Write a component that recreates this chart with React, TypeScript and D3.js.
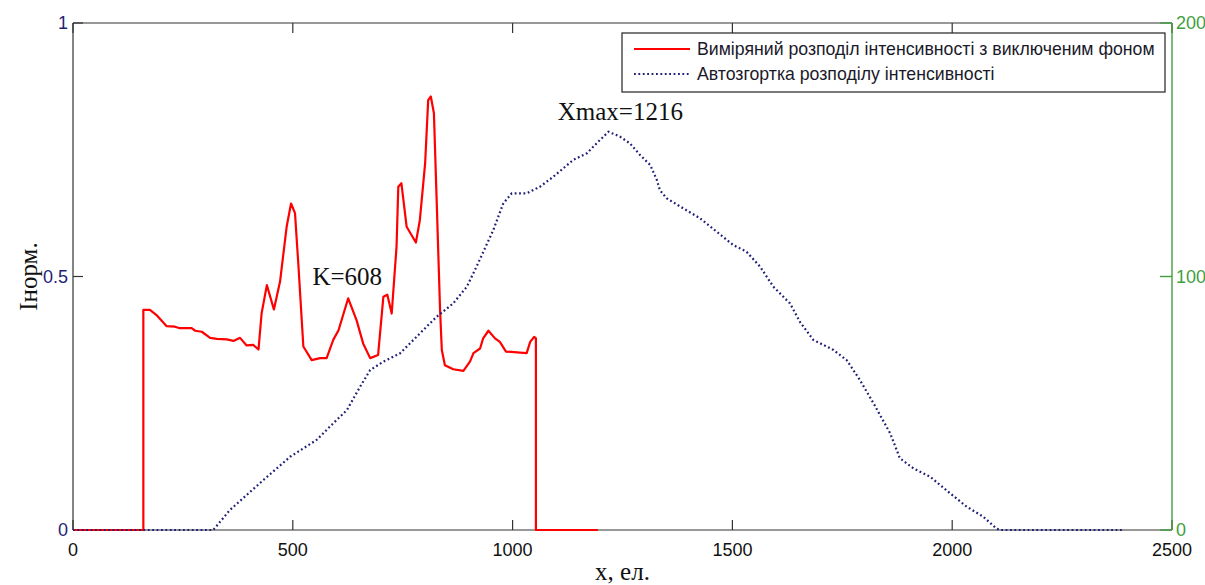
import React from "react";
import * as d3 from "d3";

// Measured intensity with background removed (left axis, normalized)
const redPoints: [number, number][] = [
  [0, 0], [160, 0], [160, 0.434], [175, 0.434], [190, 0.424], [213, 0.402], [232, 0.401],
  [243, 0.398], [270, 0.398], [278, 0.393], [293, 0.391], [312, 0.379], [327, 0.377],
  [350, 0.376], [365, 0.373], [380, 0.379], [395, 0.364], [410, 0.365], [422, 0.356],
  [429, 0.427], [441, 0.483], [457, 0.435], [471, 0.49], [486, 0.598], [496, 0.644],
  [505, 0.625], [513, 0.519], [524, 0.362], [543, 0.335], [562, 0.339], [577, 0.339],
  [592, 0.375], [604, 0.394], [626, 0.457], [645, 0.414], [660, 0.368], [676, 0.339],
  [694, 0.345], [706, 0.46], [715, 0.464], [725, 0.427], [736, 0.559], [740, 0.677],
  [747, 0.684], [759, 0.598], [780, 0.567], [789, 0.611], [801, 0.723], [808, 0.848],
  [814, 0.855], [821, 0.822], [827, 0.657], [835, 0.434], [839, 0.355], [846, 0.325],
  [865, 0.317], [888, 0.314], [903, 0.332], [911, 0.349], [926, 0.358], [933, 0.378],
  [945, 0.393], [960, 0.378], [971, 0.371], [985, 0.352], [1017, 0.35], [1032, 0.349],
  [1040, 0.371], [1049, 0.381], [1053, 0.378], [1053, 0], [1194, 0],
];

// Autoconvolution of the intensity distribution (right axis)
const bluePoints: [number, number][] = [
  [0, 0], [319, 0], [357, 7.9], [433, 19.7], [494, 28.9], [554, 35.5], [592, 42.1],
  [623, 47.3], [653, 56.5], [676, 63.1], [706, 66.4], [744, 69.7], [782, 76.3], [827, 84.1],
  [865, 89.4], [896, 96.0], [918, 103.9], [956, 118.3], [979, 128.9], [998, 132.8],
  [1032, 132.8], [1062, 135.4], [1093, 139.4], [1138, 146], [1169, 148.6], [1191, 152.5],
  [1218, 157.1], [1244, 155.2], [1267, 152.5], [1290, 147.9], [1313, 144], [1328, 138.1],
  [1335, 134.1], [1350, 130.9], [1388, 126.9], [1426, 123], [1464, 117.7], [1502, 112.4],
  [1532, 109.8], [1563, 103.9], [1593, 96], [1631, 89.4], [1654, 82], [1684, 75],
  [1730, 71], [1760, 67], [1790, 59.2], [1821, 50], [1859, 38.1], [1881, 28.3],
  [1912, 24.3], [1950, 21], [1995, 14.5], [2033, 9.2], [2071, 5.2], [2101, 0.5],
  [2110, 0], [2389, 0],
];

const xTicks = [0, 500, 1000, 1500, 2000, 2500];
const yLeftTicks = [0, 0.5, 1];
const yLeftLabels = ["0", "0.5", "1"];
const yRightTicks = [0, 100, 200];

const legendLabels = [
  "Виміряний розподіл інтенсивності з виключеним фоном",
  "Автозгортка розподілу інтенсивності",
];
const annotations = [
  { text: "K=608", x: 624, y: 0.5 },
  { text: "Xmax=1216", x: 1245, y: 0.824 },
];

export default function App() {
  const W = 1205, H = 585;
  const L = 73, R = 1172, T = 23, B = 530;
  const x = d3.scaleLinear().domain([0, 2500]).range([L, R]);
  const yL = d3.scaleLinear().domain([0, 1]).range([B, T]);
  const yR = d3.scaleLinear().domain([0, 200]).range([B, T]);

  const redLine = d3.line<[number, number]>().x((d) => x(d[0])).y((d) => yL(d[1]));
  const blueLine = d3.line<[number, number]>().x((d) => x(d[0])).y((d) => yR(d[1]));

  const axisCol = "#333333";
  const green = "#3f9f3f";
  const navy = "#1f1f78";
  const sans = "'Liberation Sans', Arial, sans-serif";
  const serif = "'Liberation Serif', 'Times New Roman', serif";
  const tick = 10;

  return (
    <svg width={W} height={H} style={{ position: "absolute", left: 0, top: 0, background: "#fff" }}>
      <rect x={0} y={0} width={W} height={H} fill="#fff" />
      {/* box */}
      <line x1={L} y1={T} x2={R} y2={T} stroke={axisCol} strokeWidth={1.2} />
      <line x1={L} y1={B} x2={R} y2={B} stroke={axisCol} strokeWidth={1.2} />
      <line x1={L} y1={T} x2={L} y2={B} stroke={axisCol} strokeWidth={1.2} />
      {/* x ticks */}
      {xTicks.map((t) => (
        <g key={"xt" + t}>
          <line x1={x(t)} x2={x(t)} y1={B} y2={B - tick} stroke={axisCol} strokeWidth={1.2} />
          <line x1={x(t)} x2={x(t)} y1={T} y2={T + tick} stroke={axisCol} strokeWidth={1.2} />
          <text x={x(t)} y={556} textAnchor="middle" fontFamily={sans} fontSize={18} fill="#111">
            {t}
          </text>
        </g>
      ))}
      {/* left ticks */}
      {yLeftTicks.map((t, i) => (
        <g key={"yl" + t}>
          <line x1={L} x2={L + tick} y1={yL(t)} y2={yL(t)} stroke={axisCol} strokeWidth={1.2} />
          <text x={L - 5} y={yL(t) + 6} textAnchor="end" fontFamily={sans} fontSize={18} fill={navy}>
            {yLeftLabels[i]}
          </text>
        </g>
      ))}
      {/* right axis */}
      <line x1={R} y1={T} x2={R} y2={B} stroke={green} strokeWidth={1.4} />
      {yRightTicks.map((t) => (
        <g key={"yr" + t}>
          <line x1={R} x2={R - tick - 2} y1={yR(t)} y2={yR(t)} stroke={green} strokeWidth={1.4} />
          <text x={R + 4} y={yR(t) + 6} textAnchor="start" fontFamily={sans} fontSize={18} fill={green}>
            {t}
          </text>
        </g>
      ))}
      {/* data */}
      <path d={redLine(redPoints) || ""} fill="none" stroke="#ff0000" strokeWidth={2.2} strokeLinejoin="round" />
      <path d={blueLine(bluePoints) || ""} fill="none" stroke={navy} strokeWidth={2.2} strokeDasharray="1.8,2.6" />
      {/* annotations */}
      {annotations.map((a) => (
        <text key={a.text} x={x(a.x)} y={yL(a.y) + 8} textAnchor="middle" fontFamily={serif} fontSize={25} fill="#111">
          {a.text}
        </text>
      ))}
      {/* axis labels */}
      <text x={(L + R) / 2} y={580} textAnchor="middle" fontFamily={serif} fontSize={25} fill="#111">
        x, ел.
      </text>
      <text
        transform={`translate(37, ${(T + B) / 2}) rotate(-90)`}
        textAnchor="middle"
        fontFamily={serif}
        fontSize={25}
        fill="#111"
      >
        Інорм.
      </text>
      {/* legend */}
      <g>
        <rect x={622} y={33} width={543} height={59} fill="#fff" stroke="#222" strokeWidth={1.2} />
        <line x1={634} x2={690} y1={49} y2={49} stroke="#ff0000" strokeWidth={2.2} />
        <line x1={634} x2={690} y1={74} y2={74} stroke={navy} strokeWidth={2.2} strokeDasharray="1.8,2.6" />
        {legendLabels.map((l, i) => (
          <text key={l} x={697} y={55 + i * 25} fontFamily={sans} fontSize={17.7} fill="#1a1a2a">
            {l}
          </text>
        ))}
      </g>
    </svg>
  );
}
